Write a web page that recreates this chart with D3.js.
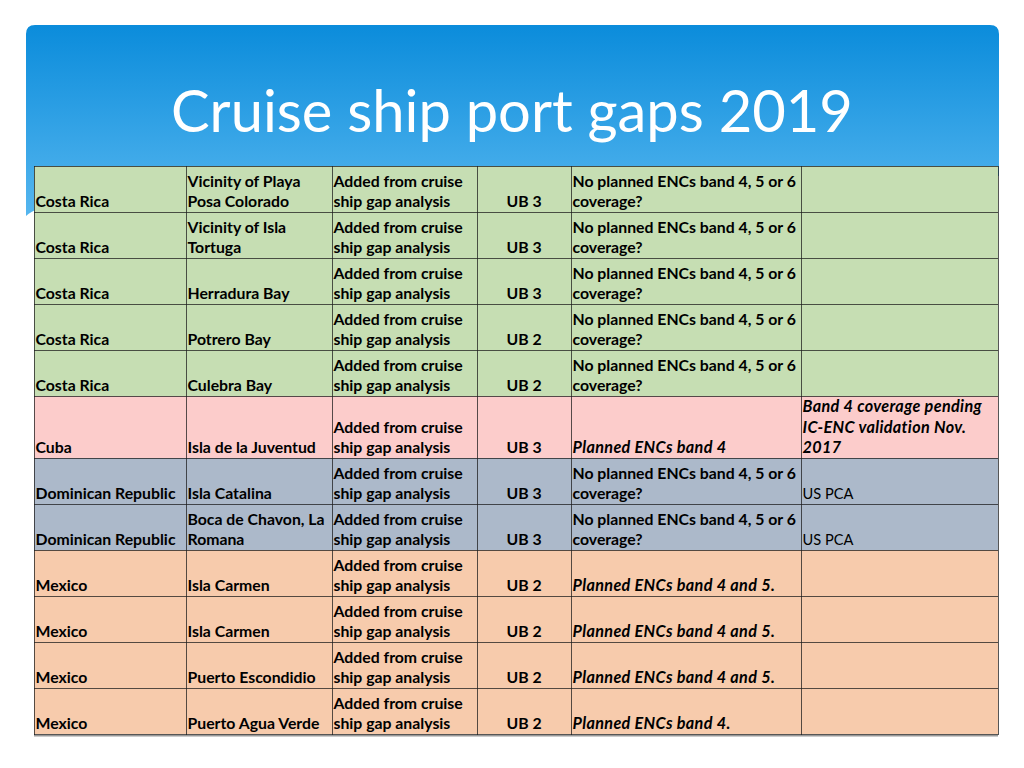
<!DOCTYPE html>
<html><head><meta charset="utf-8">
<script src="https://cdn.jsdelivr.net/npm/d3@7/dist/d3.min.js"></script>
<style>html,body{margin:0;padding:0;background:#fff;}svg{display:block;}</style>
</head><body>
<svg id="c" width="1024" height="768"></svg>
<script>
const title = "Cruise ship port gaps 2019";
const countries = ["Costa Rica","Costa Rica","Costa Rica","Costa Rica","Costa Rica","Cuba","Dominican Republic","Dominican Republic","Mexico","Mexico","Mexico","Mexico"];
const ports = ["Vicinity of Playa\nPosa Colorado","Vicinity of Isla\nTortuga","Herradura Bay","Potrero Bay","Culebra Bay","Isla de la Juventud","Isla Catalina","Boca de Chavon, La\nRomana","Isla Carmen","Isla Carmen","Puerto Escondidio","Puerto Agua Verde"];
const sources = Array(12).fill("Added from cruise\nship gap analysis");
const ubs = ["UB 3","UB 3","UB 3","UB 2","UB 2","UB 3","UB 3","UB 3","UB 2","UB 2","UB 2","UB 2"];
const notes = ["No planned ENCs band 4, 5 or 6\ncoverage?","No planned ENCs band 4, 5 or 6\ncoverage?","No planned ENCs band 4, 5 or 6\ncoverage?","No planned ENCs band 4, 5 or 6\ncoverage?","No planned ENCs band 4, 5 or 6\ncoverage?","Planned ENCs band 4","No planned ENCs band 4, 5 or 6\ncoverage?","No planned ENCs band 4, 5 or 6\ncoverage?","Planned ENCs band 4 and 5.","Planned ENCs band 4 and 5.","Planned ENCs band 4 and 5.","Planned ENCs band 4."];
const comments = ["","","","","","Band 4 coverage pending\nIC-ENC validation Nov.\n2017","US PCA","US PCA","","","",""];
const groupColors = {"Costa Rica":"#c6deb3","Cuba":"#fccccb","Dominican Republic":"#acb9ca","Mexico":"#f7cbac"};

const svg = d3.select("#c");
const defs = svg.append("defs");
const g = defs.append("linearGradient").attr("id","bg").attr("x1",0).attr("y1",0).attr("x2",0).attr("y2",1);
g.append("stop").attr("offset","0%").attr("stop-color","#0b8cdb");
g.append("stop").attr("offset","100%").attr("stop-color","#55b6ef");

// blue header panel
const L=26,T=25,R=999,B=216,r=9;
svg.append("path").attr("fill","url(#bg)")
  .attr("d",`M${L},${T+r} Q${L},${T} ${L+r},${T} L${R-r},${T} Q${R},${T} ${R},${T+r} L${R},${B-40} L${L+14},${B-8} Q${L+4},${B-4} ${L},${B} Z`);

const tt = svg.append("text").text(title).attr("x",512).attr("y",132).attr("text-anchor","middle")
  .attr("fill","#fff").style("font-family","Lato, 'Open Sans', sans-serif").style("font-size","60px");
const tw = tt.node().getComputedTextLength();
tt.style("font-size",(60*682/tw)+"px");

// table
const colEdges = [34,186,332,477,571,801,998];
const nLines = d3.range(countries.length).map(i => d3.max([ports[i],sources[i],notes[i],comments[i]], s => s.split("\n").length));
const rowH = nLines.map(n => n <= 2 ? 46 : 62);
const cum = [0]; rowH.forEach((h,i)=>cum.push(cum[i]+h));
const y = d3.scaleLinear().domain([0,cum[cum.length-1]]).range([166,734]);

const table = svg.append("g");
table.append("rect").attr("x",34).attr("y",735).attr("width",964).attr("height",1.5).attr("fill","#999");

const rows = table.selectAll("g.row").data(d3.range(countries.length)).join("g").attr("class","row");
rows.append("rect").attr("x",colEdges[0]).attr("y",i=>y(cum[i])).attr("width",colEdges[6]-colEdges[0])
  .attr("height",i=>y(cum[i+1])-y(cum[i])).attr("fill",i=>groupColors[countries[i]]);

const fontFam = "Lato, 'Open Sans', sans-serif";
function cellText(i, col, str, opts){
  if(!str) return;
  const lines = str.split("\n");
  const bottom = y(cum[i+1]);
  const x = opts.anchor==="middle" ? (colEdges[col]+colEdges[col+1])/2 : colEdges[col]+1.5;
  const size = opts.bold===false ? 14.6 : (opts.italic ? 16.2 : 15.8);
  const t = table.append("text").attr("x",x).attr("text-anchor",opts.anchor||"start")
    .style("font-family",fontFam).style("font-size",size+"px")
    .style("letter-spacing",opts.italic ? "0.35px" : "0px")
    .style("font-weight",opts.bold===false?"normal":"bold").style("font-style",opts.italic?"italic":"normal")
    .attr("fill","#000");
  lines.forEach((ln,k)=>{
    t.append("tspan").attr("x",x).attr("y",bottom-5-(lines.length-1-k)*20.5).text(ln);
  });
}
d3.range(countries.length).forEach(i=>{
  cellText(i,0,countries[i],{});
  cellText(i,1,ports[i],{});
  cellText(i,2,sources[i],{});
  cellText(i,3,ubs[i],{anchor:"middle"});
  const planned = notes[i].startsWith("Planned");
  cellText(i,4,notes[i],{italic:planned});
  const pca = comments[i]==="US PCA";
  cellText(i,5,comments[i],{italic:!pca,bold:!pca});
});

// grid lines
const lineCol = "rgba(30,30,30,0.75)";
table.selectAll("line.h").data(cum).join("line").attr("class","h")
  .attr("x1",colEdges[0]).attr("x2",colEdges[6]).attr("y1",d=>Math.round(y(d))+0.5).attr("y2",d=>Math.round(y(d))+0.5)
  .attr("stroke",lineCol).attr("stroke-width",1);
table.selectAll("line.v").data(colEdges).join("line").attr("class","v")
  .attr("x1",d=>d+0.5).attr("x2",d=>d+0.5).attr("y1",166).attr("y2",735)
  .attr("stroke",lineCol).attr("stroke-width",1);
</script>
</body></html>
